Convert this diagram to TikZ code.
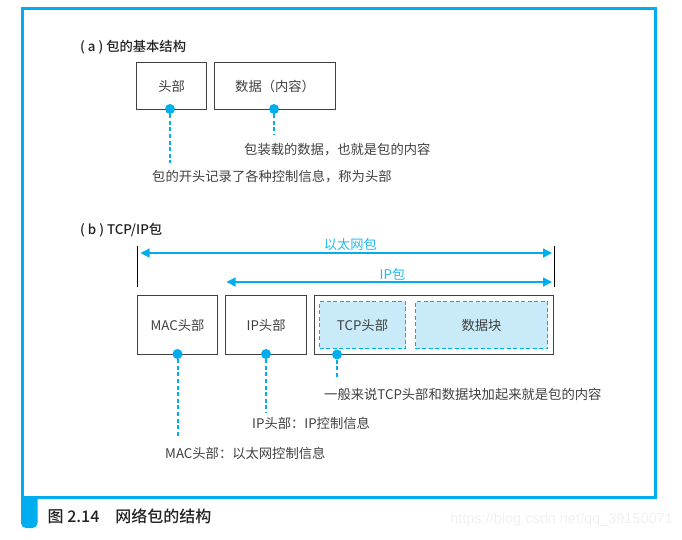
\documentclass[tikz,border=0pt]{standalone}
\usepackage{fontspec}
\newfontfamily\cjk{Noto Sans CJK SC}
\newfontfamily\cjkmed{Noto Sans CJK SC Medium}
\newfontfamily\markfont{Liberation Sans}
\usetikzlibrary{arrows.meta}

\definecolor{netblue}{HTML}{00AEEF}
\definecolor{netfill}{HTML}{C9EAF8}
\definecolor{inkgray}{HTML}{404040}
\definecolor{inkdark}{HTML}{222222}

\begin{document}
\begin{tikzpicture}[
    x=1pt,
    y=-1pt,
    font=\cjk\fontsize{13.3}{16}\selectfont,
    text=inkgray,
    box/.style={
        draw=inkgray,
        line width=1.2pt,
        anchor=north west,
        inner sep=0pt
    },
    dashbox/.style={
        draw=netblue,
        fill=netfill,
        line width=1pt,
        dash pattern=on 4pt off 2.5pt,
        anchor=north west,
        inner sep=0pt
    },
    pin/.style={
        circle,
        fill=netblue,
        minimum size=10pt,
        inner sep=0pt
    },
    lead/.style={
        draw=netblue,
        line width=2pt,
        dash pattern=on 4pt off 2.6pt
    },
    note/.style={
        anchor=west,
        inner sep=0pt
    },
    span/.style={
        {Triangle[length=9pt,width=9pt]}-{Triangle[length=9pt,width=9pt]},
        draw=netblue,
        line width=1.3pt
    },
    spanlabel/.style={
        above,
        inner sep=1.5pt,
        text=netblue!85
    },
    tick/.style={
        draw=black,
        line width=0.8pt
    },
    heading/.style={
        anchor=west,
        inner sep=0pt,
        text=inkdark,
        font=\cjkmed\fontsize{13.3}{16}\selectfont
    }
]

    \useasboundingbox (0,0) rectangle (682,539);

    % frame and caption
    \draw[netblue, line width=3pt] (22.5,8) rectangle (655,497.5);
    \fill[netblue] (21,497) [rounded corners=5pt] -- (21,528) -- (37.5,528)
        [sharp corners] -- (37.5,497) -- cycle;
    \node[heading, font=\cjkmed\fontsize{16}{19}\selectfont]
        (caption) at (47.5,516) {图 2.14\quad 网络包的结构};
    \node[anchor=east, inner sep=0pt, text=black!6,
        font=\markfont\fontsize{14.5}{17}\selectfont]
        (watermark) at (673,520) {https://blog.csdn.net/qq\_39150071};

    % (a) basic structure
    \node[heading] (titlea) at (80,47) {( a ) 包的基本结构};

    \node[box, minimum width=70pt, minimum height=47pt]
        (head) at (136,62) {头部};
    \node[box, minimum width=121pt, minimum height=47pt]
        (data) at (214,62) {数据（内容）};

    \node[pin] (headpin) at (170,109) {};
    \node[pin] (datapin) at (274,109) {};
    \coordinate (headend) at (170,163);
    \coordinate (dataend) at (274,135);
    \draw[lead] (headpin) -- (headend);
    \draw[lead] (datapin) -- (dataend);

    \node[note] (datanote) at (244,150) {包装载的数据，也就是包的内容};
    \node[note] (headnote) at (152,177) {包的开头记录了各种控制信息，称为头部};

    % (b) TCP/IP packet
    \node[heading] (titleb) at (80,230) {( b ) TCP/IP包};

    \draw[tick] (137,246) -- (137,287);
    \draw[tick] (554,246) -- (554,287);

    \coordinate (ethwest) at (140.5,253);
    \coordinate (etheast) at (552,253);
    \coordinate (ipwest) at (226.5,282);
    \coordinate (ipeast) at (552,282);
    \draw[span] (ethwest) -- node[spanlabel, pos=0.51] (ethlabel) {以太网包} (etheast);
    \draw[span] (ipwest) -- node[spanlabel, pos=0.51] (iplabel) {IP包} (ipeast);

    \node[box, minimum width=80pt, minimum height=59pt]
        (mac) at (137,295) {MAC头部};
    \node[box, minimum width=81pt, minimum height=59pt]
        (ip) at (225,295) {IP头部};
    \node[box, minimum width=239pt, minimum height=59pt]
        (payload) at (314,295) {};
    \node[dashbox, minimum width=86pt, minimum height=47pt]
        (tcp) at (319,301) {TCP头部};
    \node[dashbox, minimum width=132pt, minimum height=47pt]
        (block) at (415,301) {数据块};

    \node[pin] (macpin) at (177.5,354) {};
    \node[pin] (ippin) at (266,354) {};
    \node[pin] (tcppin) at (337,354.5) {};
    \coordinate (macend) at (177.5,438);
    \coordinate (ipend) at (266,412.5);
    \coordinate (tcpend) at (337,378);
    \draw[lead] (macpin) -- (macend);
    \draw[lead] (ippin) -- (ipend);
    \draw[lead] (tcppin) -- (tcpend);

    \node[note] (tcpnote) at (324,394) {一般来说TCP头部和数据块加起来就是包的内容};
    \node[note] (ipnote) at (252,423) {IP头部：IP控制信息};
    \node[note] (macnote) at (165,453) {MAC头部：以太网控制信息};

\end{tikzpicture}
\end{document}
